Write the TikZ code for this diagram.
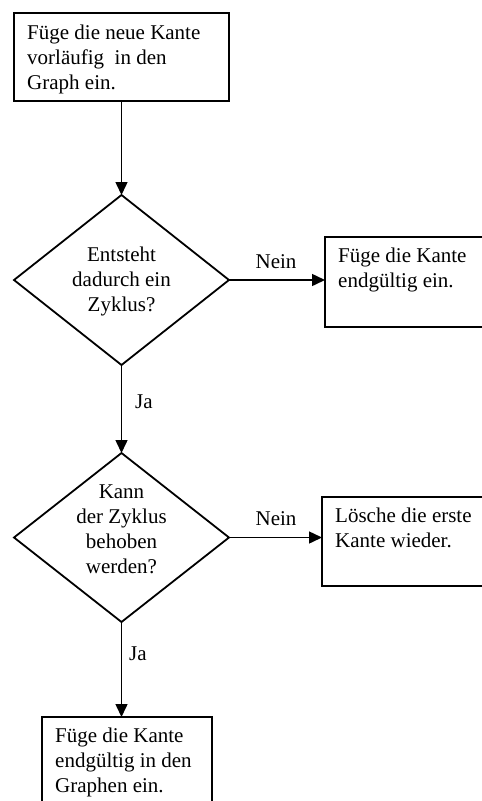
\documentclass[tikz,border=0pt]{standalone}
\usepackage{fontspec}
\setmainfont{Liberation Serif}
\usetikzlibrary{shapes.geometric,arrows.meta}
\tikzset{
  txt/.style={inner sep=0pt,font=\fontsize{21pt}{25pt}\selectfont},
  boxshape/.style={draw,line width=1.8pt,rectangle,inner sep=0pt,outer sep=0pt},
  decshape/.style={draw,line width=1.8pt,diamond,inner sep=0pt,outer sep=0pt,
     minimum width=215pt,minimum height=170pt},
  conn/.style={line width=1.5pt,-{Triangle[length=13pt,width=12pt]}}
}
\begin{document}
\begin{tikzpicture}[x=1pt,y=-1pt]
\useasboundingbox (0,0) rectangle (482,801);
\clip (0,0) rectangle (482,801);
% shapes
\node[boxshape,minimum width=215pt,minimum height=88pt] (b1) at (121.5,57) {};
\node[decshape] (d1) at (121.5,280) {};
\node[boxshape,minimum width=175pt,minimum height=90pt] (b2) at (412.5,282) {};
\node[decshape,minimum height=169pt] (d2) at (121.5,537.5) {};
\node[boxshape,minimum width=178pt,minimum height=89pt] (b3) at (411,541.5) {};
\node[boxshape,minimum width=170pt,minimum height=113pt] (b4) at (127,773.5) {};
% texts
\node[txt,anchor=north west,align=left] (t1) at (27,21.5)
  {\strut Füge die neue Kante\\vorläufig~ in den\\Graph ein.\strut};
\node[txt,anchor=north,align=center] (t2) at (121.5,243.5)
  {\strut Entsteht\\dadurch ein\\Zyklus?\strut};
\node[txt,anchor=north west,align=left] (t3) at (338,244.5)
  {\strut Füge die Kante\\endgültig ein.\strut};
\node[txt,anchor=north,align=center] (t4) at (121.5,480.5)
  {\strut Kann\\der Zyklus\\behoben\\werden?\strut};
\node[txt,anchor=north west,align=left] (t5) at (335,504.5)
  {\strut Lösche die erste\\Kante wieder.\strut};
\node[txt,anchor=north west,align=left] (t6) at (55,724.5)
  {\strut Füge die Kante\\endgültig in den\\Graphen ein.\strut};
% labels
\node[txt,anchor=base] (n1) at (276,268) {Nein};
\node[txt,anchor=base west] (j1) at (135,408) {Ja};
\node[txt,anchor=base] (n2) at (276,525) {Nein};
\node[txt,anchor=base west] (j2) at (129,660) {Ja};
% connectors
\draw[conn] (b1.south -| d1.north) -- (d1.north);
\draw[conn] (d1.east) -- (d1.east -| b2.west);
\draw[conn] (d1.south) -- (d2.north);
\draw[conn] (d2.east) -- (d2.east -| b3.west);
\draw[conn] (d2.south) -- (d2.south |- b4.north);
\end{tikzpicture}
\end{document}
